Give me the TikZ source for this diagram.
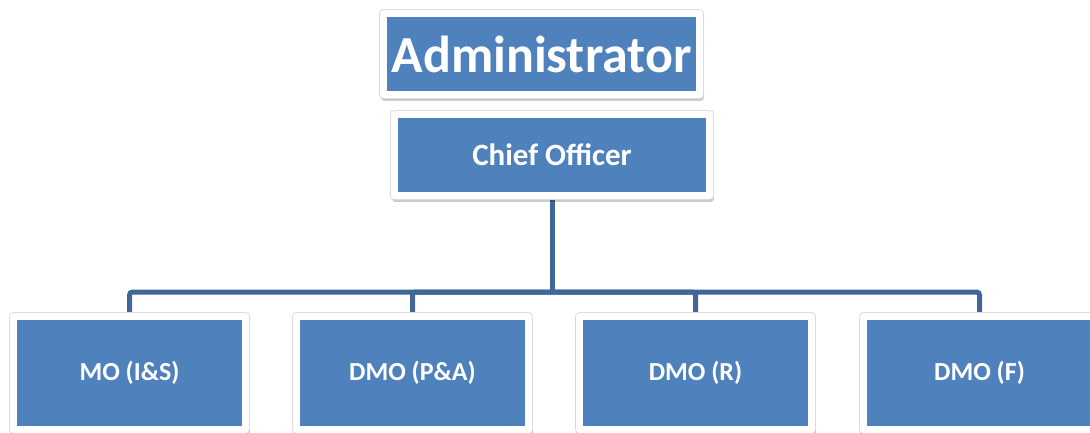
\documentclass[tikz,border=0pt]{standalone}
\usepackage{fontspec}
\setmainfont{Carlito}
\usetikzlibrary{backgrounds}
\definecolor{boxblue}{RGB}{79,129,189}
\definecolor{linkblue}{RGB}{64,103,152}

\begin{document}
\begin{tikzpicture}
  [x=1pt,y=-1pt,
   unit/.style={rectangle,fill=boxblue,draw=white,line width=7pt,line join=round,
     text=white,inner sep=0pt,
     preaction={draw=black,fill=black,opacity=.2,transform canvas={xshift=1pt,yshift=-3pt}},
     preaction={draw=black!14,line width=9pt}},
   link/.style={draw=linkblue,line width=5pt,rounded corners=3pt}]
  \useasboundingbox (0,0) rectangle (1090,432);
  \node[unit,minimum width=316pt,minimum height=81pt,font=\bfseries\fontsize{52}{52}\selectfont] (admin) at (541.5,54) {Administrator};
  \node[unit,minimum width=315pt,minimum height=81pt,font=\bfseries\fontsize{31}{31}\selectfont] (chief) at (552,155) {Chief Officer};

  \foreach \name/\x/\txt in {mois/129.5/MO (I\&S),dmopa/412.5/DMO (P\&A),dmor/695.5/DMO (R),dmof/979.5/DMO (F)}
    \node[unit,minimum width=232pt,minimum height=113pt,font=\bfseries\fontsize{26}{26}\selectfont] (\name) at (\x,373) {\txt};

  \begin{pgfonlayer}{background}
    \coordinate (bus) at (552,292);
    \draw[link] (chief) -- (bus);
    \foreach \to in {mois,dmopa,dmor,dmof}
      \draw[link] (bus) -| (\to);
  \end{pgfonlayer}
\end{tikzpicture}
\end{document}
